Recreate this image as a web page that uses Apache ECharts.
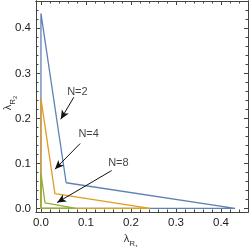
<!DOCTYPE html>
<html><head><meta charset="utf-8">
<script src="https://cdn.jsdelivr.net/npm/echarts@6/dist/echarts.min.js"></script>
<style>html,body{margin:0;padding:0;background:#fff}#c{width:250px;height:247px}</style>
</head><body><div id="c"></div>
<script>
// ---- data ----
const seriesNames = ['N=2', 'N=4', 'N=8'];
const blue   = [[0,0.433],[0.056,0.057],[0.431,0],[0,0],[0,0.433]];
const orange = [[0,0.244],[0.031,0.033],[0.242,0],[0,0],[0,0.244]];
const green  = [[0,0.078],[0.009,0.0125],[0.078,0],[0,0],[0,0.078]];
const majorTicks = [0, 0.1, 0.2, 0.3, 0.4];
const minorTicks = [0.02,0.04,0.06,0.08,0.12,0.14,0.16,0.18,0.22,0.24,0.26,0.28,0.32,0.34,0.36,0.38,0.42,0.44];
const tickLabels = ['0.0','0.1','0.2','0.3','0.4'];
const labelPos = [[0.081,0.259],[0.106,0.165],[0.172,0.101]];
const arrowFrom = [[0.073,0.247],[0.087,0.144],[0.157,0.084]];
const arrowTo   = [[0.044,0.198],[0.031,0.087],[0.036,0.013]];
const xRange = [-0.011, 0.46];
const yRange = [-0.008, 0.4607];

const frameColor = '#444';
const font = 'Liberation Sans, Arial, sans-serif';

function mkAxis(type, pos, ticks, len, labels, range, extra) {
  const a = {
    type: 'value', position: pos, min: range[0], max: range[1],
    axisLine: {show: true, onZero: false, lineStyle: {color: frameColor, width: 1}},
    axisTick: {show: true, inside: true, length: len, customValues: ticks, lineStyle: {color: frameColor, width: 1}},
    axisLabel: labels ? {show: true, customValues: ticks, color: '#222', fontSize: 11.5, fontFamily: font, margin: 5,
      formatter: v => tickLabels[majorTicks.findIndex(t => Math.abs(t - v) < 1e-9)]} : {show: false},
    splitLine: {show: false}
  };
  return Object.assign(a, extra || {});
}

const richStyle = {l: {fontSize: 11, lineHeight: 11, verticalAlign: 'top', fontFamily: font, fill:'#333', color:'#333'},
           s: {fontSize: 8, lineHeight: 8, padding: [6,0,0,0], verticalAlign: 'top', fontFamily: font, fill:'#333', color:'#333'},
           ss: {fontSize: 6, lineHeight: 6, padding: [10,0,0,0], verticalAlign: 'top', fontFamily: font, fill:'#333', color:'#333'}};
const xName = {
  name: '{l|λ}{s|R}{ss|1}', nameLocation: 'middle', nameGap: 20,
  nameTextStyle: {fontFamily: font, color: '#333', padding: [0, 22, 0, 0], rich: richStyle}
};

const colors = ['#5E81B5', '#E19C24', '#8FB032'];
const datas = [blue, orange, green];

const series = datas.map((d, i) => ({
  type: 'line', name: seriesNames[i], data: d, xAxisIndex: 0, yAxisIndex: 0,
  symbol: 'none', lineStyle: {color: colors[i], width: 1.3}, z: 2 + i, animation: false
}));
series.push({
  type: 'scatter', xAxisIndex: 0, yAxisIndex: 0, symbolSize: 0, z: 10, animation: false,
  data: labelPos.map((p, i) => ({value: p, label: {show: true, formatter: seriesNames[i]}})),
  label: {show: true, position: 'inside', color: '#111', fontSize: 11, fontFamily: font},
  markLine: {
    silent: true, animation: false, symbol: ['none', 'arrow'], symbolSize: [6, 9],
    lineStyle: {color: '#111', width: 1, type: 'solid'}, label: {show: false},
    data: arrowFrom.map((p, i) => [{coord: p}, {coord: arrowTo[i]}])
  }
});

const chart = echarts.init(document.getElementById('c'), null, {renderer: 'canvas'});
chart.setOption({
  animation: false,
  backgroundColor: '#fff',
  grid: {left: 36, right: 2, top: 1, bottom: 35, containLabel: false, outerBoundsMode: 'none'},
  xAxis: [
    mkAxis('x', 'bottom', majorTicks, 4, true, xRange, xName),
    mkAxis('x', 'bottom', minorTicks, 2.5, false, xRange),
    mkAxis('x', 'top', majorTicks, 4, false, xRange),
    mkAxis('x', 'top', minorTicks, 2.5, false, xRange)
  ],
  yAxis: [
    mkAxis('y', 'left', majorTicks, 4, true, yRange),
    mkAxis('y', 'left', minorTicks, 2.5, false, yRange),
    mkAxis('y', 'right', majorTicks, 4, false, yRange),
    mkAxis('y', 'right', minorTicks, 2.5, false, yRange)
  ],
  graphic: [{
    type: 'text', x: 8, y: 103, rotation: Math.PI / 2, silent: true,
    style: {text: '{l|λ}{s|R}{ss|2}', rich: richStyle, fill: '#333', font: '11px ' + font,
            align: 'center', verticalAlign: 'middle'}
  }],
  series: series
});
</script></body></html>
